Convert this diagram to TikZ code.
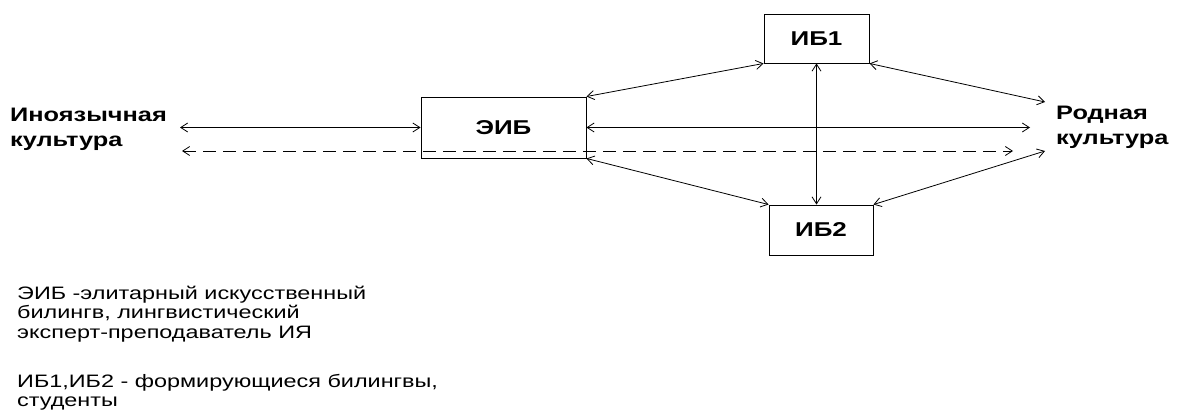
\documentclass[tikz,border=0pt]{standalone}
\usepackage{fontspec}
\setmainfont{Liberation Sans}
\usetikzlibrary{arrows.meta}
% the lettering is set a little wider than the font's natural width
\newcommand\wide[1]{\scalebox{1.3}[1]{#1}}
\newcommand\lines[1]{\wide{\begin{tabular}[t]{@{}l@{}}#1\end{tabular}}}

\begin{document}
\begin{tikzpicture}[x=1pt,y=-1pt,
  box/.style={draw, line width=0.9pt, inner sep=0pt,
    font=\fontsize{20}{24}\selectfont\bfseries},
  link/.style={line width=0.8pt,
    {Straight Barb[length=7pt,width=9pt]}-{Straight Barb[length=7pt,width=9pt]}},
  dashlink/.style={link, dash pattern=on 13pt off 7pt},
  big/.style={font=\fontsize{19.5}{25}\selectfont\bfseries, inner sep=0pt, anchor=base west},
  note/.style={font=\fontsize{18}{19.5}\selectfont, inner sep=0pt, anchor=base west}]
\useasboundingbox (0,0) rectangle (1178,414);

% boxes
\node[box, minimum width=165pt, minimum height=61pt] (eib) at (503.5,127.5) {\wide{ЭИБ}};
\node[box, minimum width=105pt, minimum height=49pt] (ib1) at (816.5,38.5) {\wide{ИБ1}};
\node[box, minimum width=104pt, minimum height=50pt] (ib2) at (821,230) {\wide{ИБ2}};

% side labels
\node[big] (foreign) at (10,122) {\lines{Иноязычная\\культура}};
\node[big] (native) at (1056,120) {\lines{Родная\\культура}};

% legend
\node[note] (n1) at (17,299) {\lines{ЭИБ -элитарный искусственный\\билингв, лингвистический\\эксперт-преподаватель ИЯ}};
\node[note] (n2) at (17,387) {\lines{ИБ1,ИБ2 - формирующиеся билингвы,\\студенты}};

% free arrow ends
\coordinate (fl) at (180,127.5);
\coordinate (dl) at (182,151);
\coordinate (dr) at (1013,151);
\coordinate (nr) at (1030,127.5);
\coordinate (ur) at (1045,102);
\coordinate (lr) at (1045,151);

% connectors
\draw[link] (fl) -- (eib.west);
\draw[dashlink] (dl) -- (dr);
\draw[link] (eib.north east) -- (ib1.south west);
\draw[link] (eib.east) -- (nr);
\draw[link] (eib.south east) -- (ib2.north west);
\draw[link] (ib1.south) -- (ib1.south |- ib2.north);
\draw[link] (ib1.south east) -- (ur);
\draw[link] (ib2.north east) -- (lr);
\end{tikzpicture}
\end{document}
